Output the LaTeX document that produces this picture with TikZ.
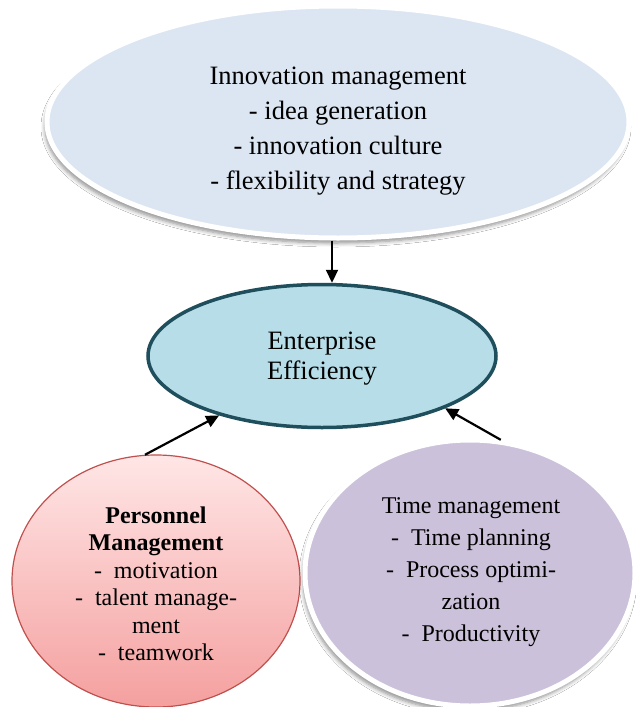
\documentclass[tikz,border=0pt]{standalone}
\usepackage{fontspec}
\setmainfont{Liberation Serif}
\usetikzlibrary{shapes.geometric,shadows.blur,arrows.meta}
\definecolor{topfill}{HTML}{DCE6F2}
\definecolor{midfill}{HTML}{B7DEE8}
\definecolor{midline}{HTML}{1F4E5C}
\definecolor{pinktop}{HTML}{FFE6E6}
\definecolor{pinkbot}{HTML}{F4A09F}
\definecolor{pinkline}{HTML}{C0504D}
\definecolor{lavfill}{HTML}{CCC1DA}
\tikzset{
  softshadow/.style={blur shadow={shadow xshift=-2pt,shadow yshift=-5pt,shadow blur steps=6,shadow blur radius=4pt,shadow opacity=45}},
  blob/.style={ellipse,inner sep=0pt},
  conn/.style={line width=2.2pt,-{Triangle[length=13pt,width=12pt]}},
}
\begin{document}
\begin{tikzpicture}[x=1pt,y=1pt]
\useasboundingbox[fill=white] (0,0) rectangle (636,-707);
% shapes
\node[blob,softshadow,fill=topfill,draw=white,line width=5pt,minimum width=582pt,minimum height=232pt] (inn) at (338,-122) {};
\node[blob,fill=midfill,draw=midline,line width=3.5pt,minimum width=348pt,minimum height=143pt] (ee) at (322,-356) {};
\node[blob,top color=pinktop,bottom color=pinkbot,draw=pinkline,line width=1.2pt,minimum width=288pt,minimum height=252pt] (pm) at (156,-581) {};
\node[blob,softshadow,fill=lavfill,draw=white,line width=5pt,minimum width=330pt,minimum height=266pt] (tm) at (470,-573) {};
% texts
\node[align=center,font=\fontsize{26.5}{35}\selectfont] (innt) at (338,-131) {Innovation management\\- idea generation\\- innovation culture\\- flexibility and strategy};
\node[align=center,font=\fontsize{26.5}{30}\selectfont] (eet) at (322,-359) {Enterprise\\Efficiency};
\node[align=center,font=\fontsize{24}{27.5}\selectfont] (pmt) at (156,-584) {\textbf{Personnel}\\\textbf{Management}\\-\ \ motivation\\-\ \ talent manage-\\ment\\-\ \ teamwork};
\node[align=center,font=\fontsize{24}{32}\selectfont] (tmt) at (471,-572) {Time management\\-\ \ Time planning\\-\ \ Process optimi-\\zation\\-\ \ Productivity};
% connectors
\coordinate (axis) at (332,0);
\draw[conn] (inn.south -| axis) -- (ee.north -| axis);
\draw[conn] (pm.95) -- (ee.210);
\draw[conn] (tm.77) -- (ee.337);
\end{tikzpicture}
\end{document}
